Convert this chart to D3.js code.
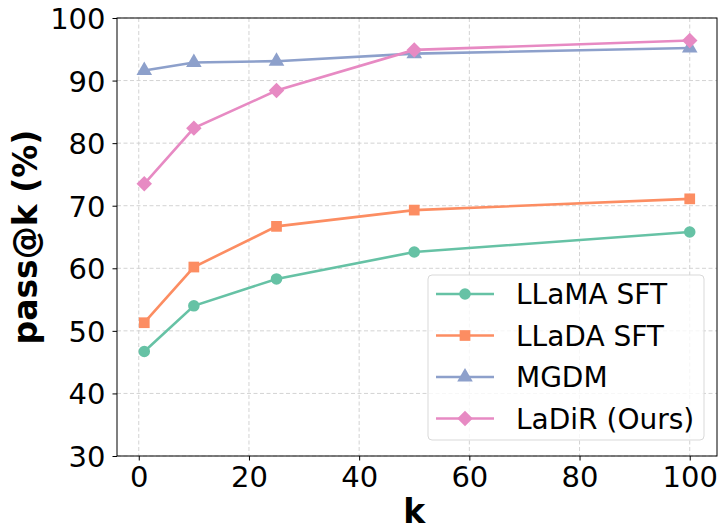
<!DOCTYPE html>
<html>
<head>
<meta charset="utf-8">
<script src="https://cdn.jsdelivr.net/npm/d3@7"></script>
<style>
  body { margin: 0; background: #fff; overflow: hidden; }
  svg { font-family: 'DejaVu Sans', sans-serif; display: block; }
</style>
</head>
<body>
<div id="chart"></div>
<script>
// data
const kValues = [1, 10, 25, 50, 100]
const seriesNames = ['LLaMA SFT', 'LLaDA SFT', 'MGDM', 'LaDiR (Ours)']
const llamaSft = [46.7, 54.0, 58.3, 62.6, 65.8]
const lladaSft = [51.3, 60.2, 66.7, 69.3, 71.1]
const mgdm = [91.6, 92.9, 93.1, 94.3, 95.2]
const ladir = [73.5, 82.4, 88.4, 94.9, 96.4]
const xTicks = [0, 20, 40, 60, 80, 100]
const yTicks = [30, 40, 50, 60, 70, 80, 90, 100]

const colors = ['#66c2a5', '#fc8d62', '#8da0cb', '#e78ac3']
const symbols = [d3.symbolCircle, d3.symbolSquare, d3.symbolTriangle, d3.symbolSquare]
const symbolSizes = [105, 115, 105, 120]
const symbolRotate = [0, 0, 0, 45]

const margin = { top: 18, left: 117, right: 3, bottom: 69 }
const width = 720 - margin.left - margin.right
const height = 525 - margin.top - margin.bottom

const svg = d3.select('#chart')
  .append('svg')
  .attr('width', 720)
  .attr('height', 525)

const g = svg.append('g')
  .attr('transform', 'translate(' + margin.left + ',' + margin.top + ')')

const xPositionScale = d3.scaleLinear().domain([-3.95, 104.95]).range([0, width])
const yPositionScale = d3.scaleLinear().domain([30, 100]).range([height, 0])

// grid
g.append('g')
  .selectAll('line')
  .data(xTicks)
  .enter()
  .append('line')
  .attr('x1', d => xPositionScale(d))
  .attr('x2', d => xPositionScale(d))
  .attr('y1', 0)
  .attr('y2', height)
  .attr('stroke', '#d3d3d3')
  .attr('stroke-dasharray', '4 2.5')
  .attr('stroke-width', 1)

g.append('g')
  .selectAll('line')
  .data(yTicks)
  .enter()
  .append('line')
  .attr('y1', d => yPositionScale(d))
  .attr('y2', d => yPositionScale(d))
  .attr('x1', 0)
  .attr('x2', width)
  .attr('stroke', '#d3d3d3')
  .attr('stroke-dasharray', '4 2.5')
  .attr('stroke-width', 1)

// lines
const allSeries = [llamaSft, lladaSft, mgdm, ladir].map((vals, i) => ({
  name: seriesNames[i],
  values: vals.map((v, j) => ({ k: kValues[j], v: v })),
  color: colors[i],
  symbol: symbols[i],
  size: symbolSizes[i],
  rot: symbolRotate[i]
}))

const line = d3.line()
  .x(d => xPositionScale(d.k))
  .y(d => yPositionScale(d.v))

allSeries.forEach(s => {
  g.append('path')
    .datum(s.values)
    .attr('d', line)
    .attr('fill', 'none')
    .attr('stroke', s.color)
    .attr('stroke-width', 2.6)

  g.selectAll(null)
    .data(s.values)
    .enter()
    .append('path')
    .attr('d', d3.symbol().type(s.symbol).size(s.size))
    .attr('transform', d => 'translate(' + xPositionScale(d.k) + ',' + yPositionScale(d.v) + ') rotate(' + s.rot + ')')
    .attr('fill', s.color)
})

// axes
const xAxis = d3.axisBottom(xPositionScale).tickValues(xTicks).tickSize(4.5).tickPadding(6)
g.append('g')
  .attr('class', 'axis x-axis')
  .attr('transform', 'translate(0,' + height + ')')
  .call(xAxis)
  .call(sel => sel.select('.domain').remove())
  .selectAll('text')
  .attr('font-size', 29)
  .attr('fill', '#000')
  .attr('font-family', 'DejaVu Sans')

const yAxis = d3.axisLeft(yPositionScale).tickValues(yTicks).tickSize(4.5).tickPadding(7)
g.append('g')
  .attr('class', 'axis y-axis')
  .call(yAxis)
  .call(sel => sel.select('.domain').remove())
  .selectAll('text')
  .attr('font-size', 29)
  .attr('fill', '#000')
  .attr('font-family', 'DejaVu Sans')
  .attr('dy', '0.36em')

g.selectAll('.tick line').attr('stroke', '#000').attr('stroke-width', 1)

// frame
g.append('rect')
  .attr('width', width)
  .attr('height', height)
  .attr('fill', 'none')
  .attr('stroke', '#000')
  .attr('stroke-width', 1)

// axis labels
svg.append('text')
  .text('k')
  .attr('x', margin.left + xPositionScale(50))
  .attr('y', 523)
  .attr('text-anchor', 'middle')
  .attr('font-size', 33)
  .attr('font-weight', 'bold')

svg.append('text')
  .text('pass@k (%)')
  .attr('transform', 'translate(' + 37 + ',' + (margin.top + height / 2) + ') rotate(-90)')
  .attr('text-anchor', 'middle')
  .attr('font-size', 33)
  .attr('font-weight', 'bold')

// legend
const legend = svg.append('g').attr('transform', 'translate(428,275)')
legend.append('rect')
  .attr('width', 276)
  .attr('height', 165)
  .attr('rx', 4)
  .attr('fill', 'rgba(255,255,255,0.8)')
  .attr('stroke', '#d9d9d9')
  .attr('stroke-width', 1)

allSeries.forEach((s, i) => {
  const row = legend.append('g').attr('transform', 'translate(0,' + (19 + i * 41.5) + ')')
  row.append('line')
    .attr('x1', 8)
    .attr('x2', 66)
    .attr('stroke', s.color)
    .attr('stroke-width', 2.6)
  row.append('path')
    .attr('d', d3.symbol().type(s.symbol).size(s.size))
    .attr('transform', 'translate(37,0) rotate(' + s.rot + ')')
    .attr('fill', s.color)
  row.append('text')
    .text(s.name)
    .attr('x', 88)
    .attr('dy', '0.36em')
    .attr('font-size', 28)
    .attr('fill', '#000')
})
</script>
</body>
</html>
